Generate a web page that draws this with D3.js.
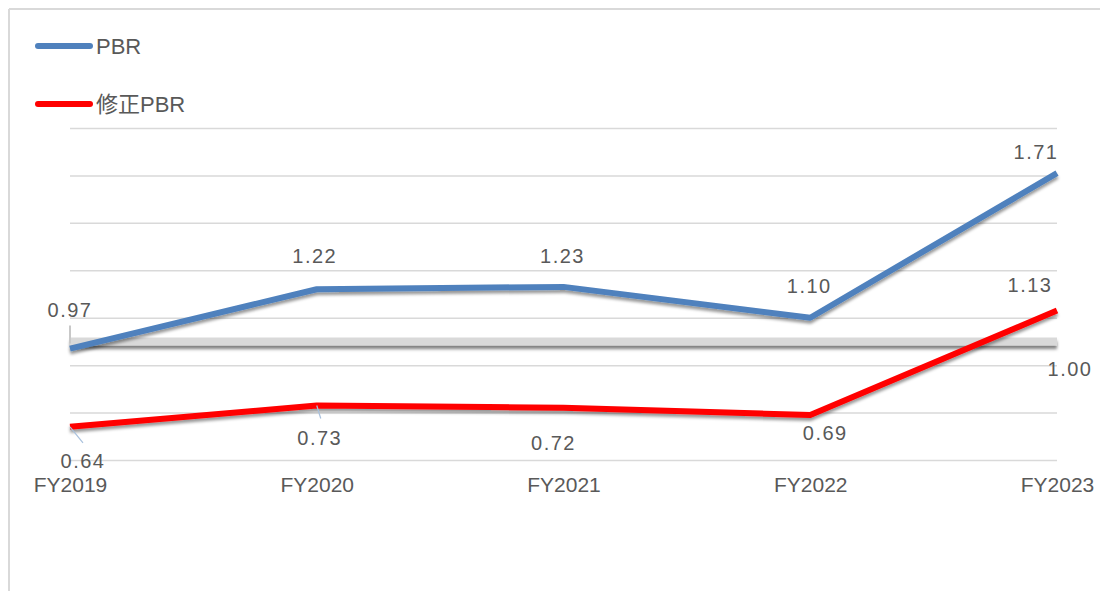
<!DOCTYPE html>
<html>
<head>
<meta charset="utf-8">
<script src="https://cdn.jsdelivr.net/npm/d3@7"></script>
<style>
  html, body { margin: 0; padding: 0; background: #fff; }
  svg { display: block; }
  text { font-family: "Liberation Sans", Arial, "Noto Sans CJK JP", sans-serif; fill: #595959; }
</style>
</head>
<body>
<svg id="chart" width="1100" height="591"></svg>
<script>
// ---- data ----
const categories = ["FY2019", "FY2020", "FY2021", "FY2022", "FY2023"];
const pbr = [0.97, 1.22, 1.23, 1.10, 1.71];
const adjPbr = [0.64, 0.73, 0.72, 0.69, 1.13];
const referenceValue = 1.00;
const seriesNames = ["PBR", "修正PBR"];
const yTicks = [0.5, 0.7, 0.9, 1.1, 1.3, 1.5, 1.7, 1.9];

// ---- layout (label nudges, px) ----
const pbrLabelDx = [0, -2, -1, -1, -21];
const pbrLabelDy = [-39, -33, -31, -32, -21];
const adjLabelDx = [13, 3, -10, 15, -27];
const adjLabelDy = [34, 33, 35, 18, -26];

const svg = d3.select("#chart");
const W = 1100, H = 591;

const x = d3.scalePoint().domain(categories).range([70, 1057]);
const y = d3.scaleLinear().domain([0.5, 1.9]).range([460, 128]);

// defs: shadow (user space so horizontal shapes still render)
const defs = svg.append("defs");
const f = defs.append("filter").attr("id", "shadow").attr("filterUnits", "userSpaceOnUse")
  .attr("x", 0).attr("y", 0).attr("width", W).attr("height", H);
f.append("feDropShadow").attr("dx", 0).attr("dy", 3).attr("stdDeviation", 1.6)
  .attr("flood-color", "#000").attr("flood-opacity", 0.4);
const f2 = defs.append("filter").attr("id", "refshadow").attr("filterUnits", "userSpaceOnUse")
  .attr("x", 0).attr("y", 0).attr("width", W).attr("height", H);
f2.append("feDropShadow").attr("dx", 0).attr("dy", 3.5).attr("stdDeviation", 1.8)
  .attr("flood-color", "#000").attr("flood-opacity", 0.5);

// outer frame (top and left)
svg.append("line").attr("x1", 9).attr("x2", W).attr("y1", 9).attr("y2", 9)
  .attr("stroke", "#d9d9d9").attr("stroke-width", 2);
svg.append("line").attr("x1", 9).attr("x2", 9).attr("y1", 9).attr("y2", H)
  .attr("stroke", "#d9d9d9").attr("stroke-width", 2);

// gridlines via axis
const grid = svg.append("g").attr("transform", "translate(70,0)")
  .call(d3.axisLeft(y).tickValues(yTicks).tickSize(-(1057 - 70)).tickFormat(""));
grid.select(".domain").remove();
grid.selectAll(".tick line").attr("stroke", "#d9d9d9").attr("stroke-width", 1.5);

// x-axis labels
const xAxis = svg.append("g").attr("transform", "translate(0,460)")
  .call(d3.axisBottom(x).tickSize(0).tickPadding(17));
xAxis.select(".domain").remove();
xAxis.selectAll("text").style("font-size", "21px").attr("fill", "#595959")
  .style("font-family", "'Liberation Sans', Arial, sans-serif");

// reference line 1.00
const x0 = x(categories[0]), x1 = x(categories[categories.length - 1]);
svg.append("line")
  .attr("x1", x0).attr("x2", x1)
  .attr("y1", y(referenceValue)).attr("y2", y(referenceValue))
  .attr("stroke", "#d9d9d9").attr("stroke-width", 8)
  .attr("filter", "url(#refshadow)");
svg.append("line")
  .attr("x1", x0).attr("x2", x0)
  .attr("y1", y(referenceValue) - 16).attr("y2", y(referenceValue) + 2)
  .attr("stroke", "#c8c8c8").attr("stroke-width", 2);

// lines
const line = d3.line().x((d, i) => x(categories[i])).y(d => y(d));
svg.append("path").datum(adjPbr).attr("d", line)
  .attr("fill", "none").attr("stroke", "#ff0000").attr("stroke-width", 6)
  .attr("stroke-linejoin", "round").attr("filter", "url(#shadow)");
svg.append("path").datum(pbr).attr("d", line)
  .attr("fill", "none").attr("stroke", "#4f81bd").attr("stroke-width", 6)
  .attr("stroke-linejoin", "round").attr("filter", "url(#shadow)");

// leader lines for a couple of red labels
[0, 1].forEach(i => {
  const px = x(categories[i]), py = y(adjPbr[i]);
  const ex = px + (i === 0 ? 13 : 4), ey = py + (i === 0 ? 16 : 13);
  svg.append("line").attr("x1", px).attr("y1", py).attr("x2", ex).attr("y2", ey)
    .attr("stroke", "#a9c1dd").attr("stroke-width", 1.2);
});

// data labels
const fmt = d3.format(".2f");
const lbl = svg.append("g").style("font-size", "20px").style("letter-spacing", "1.5px");
pbr.forEach((v, i) => {
  lbl.append("text").attr("x", x(categories[i]) + pbrLabelDx[i])
    .attr("y", y(v) + pbrLabelDy[i]).attr("text-anchor", "middle")
    .attr("dominant-baseline", "central").text(fmt(v));
});
adjPbr.forEach((v, i) => {
  lbl.append("text").attr("x", x(categories[i]) + adjLabelDx[i])
    .attr("y", y(v) + adjLabelDy[i]).attr("text-anchor", "middle")
    .attr("dominant-baseline", "central").text(fmt(v));
});
lbl.append("text").attr("x", x1 + 13)
  .attr("y", y(referenceValue) + 28).attr("text-anchor", "middle")
  .attr("dominant-baseline", "central").text(fmt(referenceValue));

// legend
const legendColors = ["#4f81bd", "#ff0000"];
const legendY = [46, 104];
seriesNames.forEach((name, i) => {
  svg.append("line").attr("x1", 38).attr("x2", 90)
    .attr("y1", legendY[i]).attr("y2", legendY[i])
    .attr("stroke", legendColors[i]).attr("stroke-width", 6).attr("stroke-linecap", "round");
  svg.append("text").attr("x", 96).attr("y", legendY[i] + 8)
    .style("font-size", "22px")
    .style("font-family", "'Liberation Sans', Arial, 'Noto Sans CJK JP', sans-serif")
    .text(name);
});
</script>
</body>
</html>
